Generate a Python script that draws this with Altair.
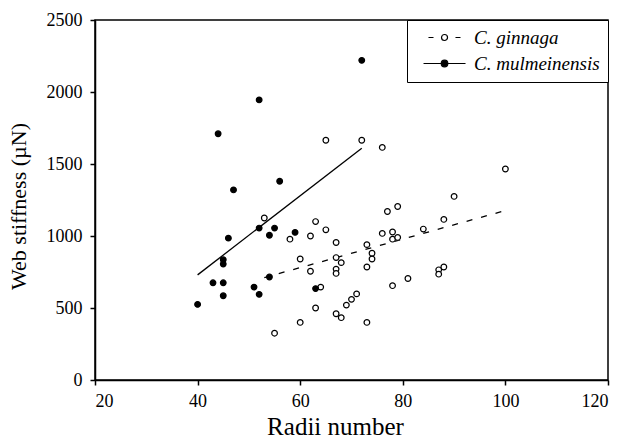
import altair as alt
import pandas as pd

species = ["C. ginnaga", "C. mulmeinensis"]

# C. ginnaga (open circles)
gin_x = [53, 55, 58, 60, 60, 62, 62, 63, 63, 64, 65, 65, 67, 67, 67, 67, 67, 68, 68, 69,
         70, 71, 72, 73, 73, 73, 74, 74, 76, 76, 77, 78, 78, 78, 79, 79, 81, 84, 87, 87,
         88, 88, 90, 100]
gin_y = [1125, 325, 978, 840, 400, 1000, 755, 1100, 500, 645, 1665, 1043, 955, 850, 770, 740, 460, 815, 433, 520,
         560, 598, 1665, 940, 785, 400, 880, 840, 1615, 1018, 1170, 1028, 978, 655, 1205, 990, 705, 1048, 765, 735,
         1115, 785, 1275, 1465]

# C. mulmeinensis (filled circles)
mul_x = [40, 43, 44, 45, 45, 45, 45, 46, 47, 51, 52, 52, 52, 54, 54, 55, 56, 59, 63, 72]
mul_y = [525, 675, 1710, 835, 805, 675, 585, 985, 1320, 645, 595, 1055, 1945, 1005, 715, 1055, 1380, 1025, 635, 2220]

# fitted regression lines (end points)
fit_gin_x = [53, 100]
fit_gin_y = [711, 1177]
fit_mul_x = [40, 72]
fit_mul_y = [730, 1610]

x_ticks = [20, 40, 60, 80, 100, 120]
y_ticks = [0, 500, 1000, 1500, 2000, 2500]

pts = pd.DataFrame({
    "radii": gin_x + mul_x,
    "stiff": gin_y + mul_y,
    "species": [species[0]] * len(gin_x) + [species[1]] * len(mul_x),
})
fit_gin = pd.DataFrame({"radii": fit_gin_x, "stiff": fit_gin_y})
fit_mul = pd.DataFrame({"radii": fit_mul_x, "stiff": fit_mul_y})
leg = pd.DataFrame({"species": species})

FONT = "'Liberation Serif', 'Times New Roman', 'DejaVu Serif', serif"

x_enc = alt.X("radii:Q", scale=alt.Scale(domain=[20, 120], nice=False, zero=False),
              axis=alt.Axis(values=x_ticks, title="Radii number", format="d",
                            labelPadding=7, titlePadding=4, titleFontSize=25, titleX=240))
y_enc = alt.Y("stiff:Q", scale=alt.Scale(domain=[0, 2500], nice=False),
              axis=alt.Axis(values=y_ticks, title="Web stiffness (\u00b5N)", format="d",
                            labelPadding=8, titlePadding=16, titleFontSize=22, titleY=186))

fill_scale = alt.Scale(domain=species, range=["white", "black"])

# legend symbols: line + circle glyphs (unit = 7.5 px)
path_gin = ("M0.53,0L1.2,0M4.13,0L4.8,0"
            "M3.07,0A0.4,0.4 0 1 1 2.27,0A0.4,0.4 0 1 1 3.07,0Z")
path_mul = ("M-0.13,0L5.47,0"
            "M3.11,0A0.44,0.44 0 1 1 2.23,0A0.44,0.44 0 1 1 3.11,0Z")

legend_def = alt.Legend(
    title=None, orient="top-right", offset=0, padding=8,
    strokeColor="black", fillColor="white",
    labelFont=FONT, labelFontSize=19, labelFontStyle="italic", labelColor="black",
    labelOffset=40, rowPadding=6, symbolSize=225,
    symbolStrokeColor="black", symbolStrokeWidth=1.2,
)

line_gin = alt.Chart(fit_gin).mark_line(color="black", strokeWidth=1.3, strokeDash=[6, 9]).encode(
    x=x_enc, y=y_enc)
line_mul = alt.Chart(fit_mul).mark_line(color="black", strokeWidth=1.3).encode(
    x=x_enc, y=y_enc)

points = alt.Chart(pts).mark_point(shape="circle", filled=True, size=32, stroke="black",
                                   strokeWidth=1.2, opacity=1).encode(
    x=x_enc, y=y_enc,
    fill=alt.Fill("species:N", scale=fill_scale, legend=legend_def),
)

legend_layer = alt.Chart(leg).transform_filter("false").mark_point(
    filled=True, size=225, stroke="black", strokeWidth=1.2, opacity=1).encode(
    fill=alt.Fill("species:N", scale=fill_scale, legend=legend_def),
    shape=alt.Shape("species:N", scale=alt.Scale(domain=species, range=[path_gin, path_mul]),
                    legend=legend_def),
)

chart = alt.layer(line_gin, line_mul, points, legend_layer).properties(
    width=513, height=360,
    padding={"left": 87, "top": 12, "right": 6, "bottom": 60},
    autosize=alt.AutoSizeParams(type="none"),
).configure_view(
    stroke="black", strokeWidth=1.5
).configure_axis(
    grid=False,
    labelFont=FONT, labelFontSize=18, labelColor="black",
    titleFont=FONT, titleFontWeight="normal", titleColor="black",
    domainColor="black", domainWidth=1.5,
    tickColor="black", tickWidth=1.5, tickSize=5,
)

chart.save("out.html", embed_options={"renderer": "svg", "actions": False})
